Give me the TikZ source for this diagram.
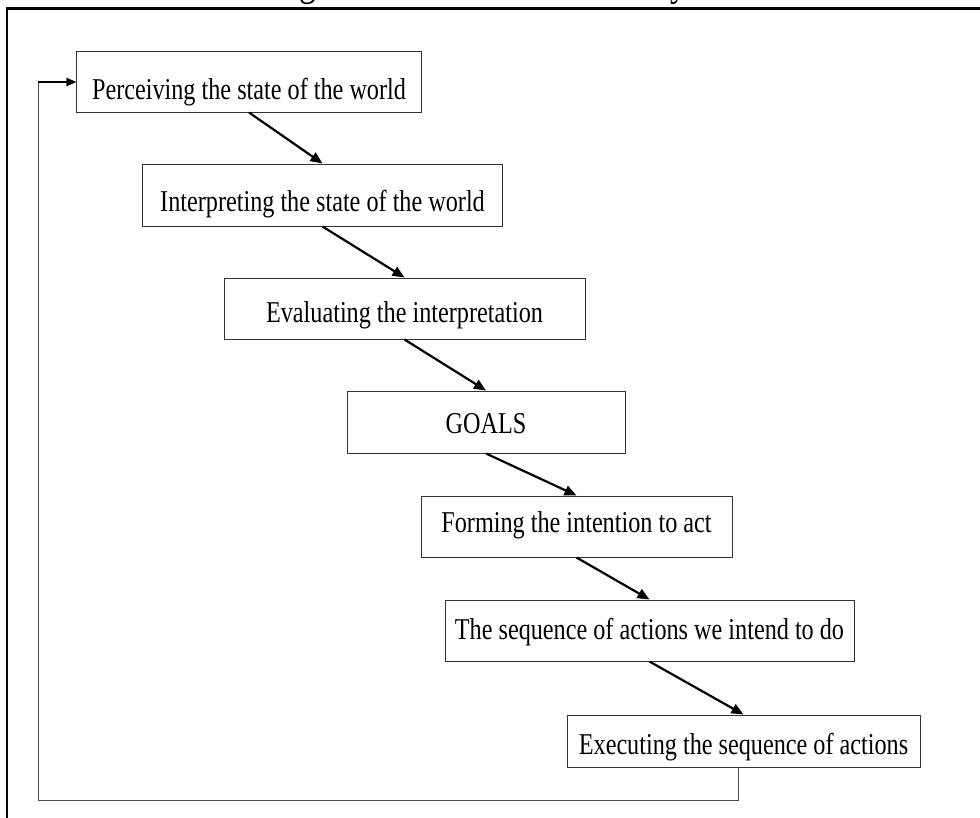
\documentclass[tikz,border=0pt]{standalone}
\usepackage{fontspec}
\setmainfont{Liberation Serif}
\usetikzlibrary{arrows.meta}
\newcommand{\tallsetting}[1]{\scalebox{1}[1.25]{#1}}
\begin{document}
\begin{tikzpicture}[x=1bp,y=-1bp,
  stage/.style={draw=black!80, line width=1bp, inner sep=0pt,
    font=\fontsize{24.2bp}{29bp}\selectfont, text=black, text depth=7bp},
  % baseline sits #1 below the box centre
  drop/.style={text height=2*#1bp+7bp},
  flow/.style={line width=2.2bp, -{Triangle[length=12bp,width=10bp]}},
  back/.style={draw=black!70, line width=1bp}]
\useasboundingbox (0,0) rectangle (980,818);
\clip (0,0) rectangle (980,818);

% caption above the frame
\node[anchor=base, inner sep=0pt, font=\fontsize{33.8bp}{40bp}\selectfont]
  (title) at (499,-4) {\tallsetting{Figure 1: Norman’s Action Cycle}};

% outer frame
\draw[line width=2.6bp] (7,8.7) rectangle (1000,830);

% the stages
\node[stage, drop=17, minimum width=344bp, minimum height=60bp] (b1) at (249,82)    {\tallsetting{Perceiving the state of the world}};
\node[stage, drop=16, minimum width=359bp, minimum height=62bp] (b2) at (322.5,195) {\tallsetting{Interpreting the state of the world}};
\node[stage, drop=14, minimum width=361bp, minimum height=61bp] (b3) at (404.5,308.5) {\tallsetting{Evaluating the interpretation}};
\node[stage, drop=11, minimum width=278bp, minimum height=62bp] (b4) at (486,422)   {\tallsetting{GOALS}};
\node[stage, drop=6, minimum width=311bp, minimum height=61bp] (b5) at (576.5,526.5) {\tallsetting{Forming the intention to act}};
\node[stage, drop=9, minimum width=409bp, minimum height=61bp] (b6) at (649.5,630.5) {\tallsetting{The sequence of actions we intend to do}};
\node[stage, drop=13, minimum width=353bp, minimum height=52bp] (b7) at (743.5,741) {\tallsetting{Executing the sequence of actions}};

% forward steps
\draw[flow] (b1.south) -- (b2.north);
\draw[flow] (b2.south) -- (b3.north);
\draw[flow] (b3.south) -- (b4.north);
\draw[flow] (b4.south) -- (b5.north);
\draw[flow] (b5.south) -- (b6.north);
\draw[flow] (b6.south) -- (b7.north);

% loop back to the start
\coordinate (fbl) at (38,800);
\coordinate (fbt) at (38,82);
\draw[back] ([xshift=-5bp]b7.south) |- (fbl) -- (fbt);
\draw[line width=2bp, -{Triangle[length=10bp,width=8bp]}] (fbt) -- (b1.west);
\end{tikzpicture}
\end{document}
